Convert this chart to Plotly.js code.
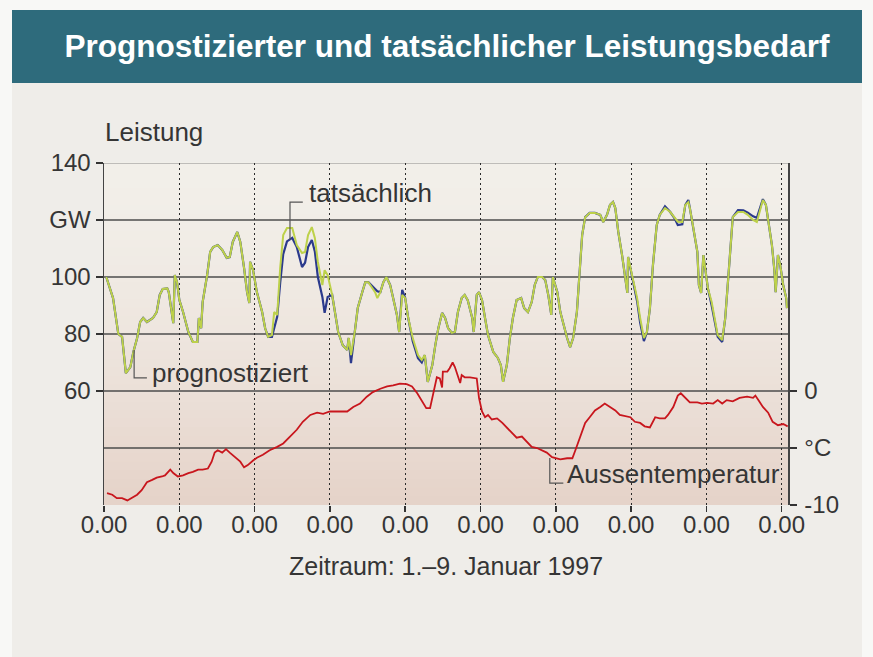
<!DOCTYPE html>
<html><head><meta charset="utf-8">
<script src="https://cdn.plot.ly/plotly-3.0.1.min.js"></script>
<style>html,body{margin:0;padding:0;background:#f8f8f6}#chart{width:873px;height:657px}</style>
</head><body><div id="chart"></div>
<script>
// ---- Data ----
const tage = [0.03,0.08,0.12,0.19,0.24,0.29,0.35,0.39,0.44,0.48,
0.52,0.57,0.61,0.65,0.70,0.74,0.78,0.84,0.86,0.90,
0.92,0.94,0.97,1.00,1.05,1.12,1.18,1.24,1.26,1.29,
1.31,1.37,1.41,1.45,1.51,1.57,1.63,1.67,1.71,1.77,
1.81,1.86,1.90,1.93,1.94,1.98,2.03,2.10,2.14,2.18,
2.23,2.26,2.30,2.34,2.38,2.43,2.50,2.56,2.63,2.67,
2.71,2.76,2.80,2.84,2.90,2.93,2.97,3.03,3.07,3.11,
3.17,3.23,3.25,3.28,3.33,3.37,3.43,3.47,3.51,3.56,
3.60,3.63,3.67,3.71,3.75,3.80,3.84,3.89,3.92,3.96,
4.00,4.04,4.10,4.17,4.22,4.26,4.30,4.36,4.40,4.44,
4.49,4.53,4.57,4.62,4.66,4.70,4.75,4.79,4.83,4.89,
4.91,4.95,4.98,5.02,5.06,5.10,5.17,5.23,5.27,5.30,
5.35,5.39,5.43,5.48,5.54,5.58,5.63,5.68,5.72,5.76,
5.82,5.86,5.90,5.94,5.96,6.02,6.06,6.10,6.15,6.19,
6.23,6.28,6.31,6.35,6.39,6.45,6.52,6.59,6.63,6.68,
6.72,6.76,6.79,6.83,6.88,6.92,6.95,6.96,6.99,7.03,
7.08,7.12,7.17,7.21,7.25,7.29,7.34,7.38,7.45,7.52,
7.58,7.62,7.68,7.72,7.76,7.78,7.82,7.88,7.90,7.93,
7.96,7.98,8.02,8.07,8.11,8.15,8.21,8.25,8.29,8.33,
8.35,8.42,8.49,8.55,8.62,8.67,8.73,8.75,8.79,8.83,
8.87,8.90,8.92,8.95,8.98,9.02,9.06,9.07];

const prognostiziert = [100,96,92.6,80,79,66.3,68.4,73.7,78.6,84.2,
85.6,84.2,85,85.6,87.7,93.7,95.8,96,94.7,87.7,
83.8,100.7,98.2,92,87.7,80.7,77.2,77.2,85.6,82,
91.2,100.7,108.8,110.5,111.2,109.5,106.7,107,112.3,115.8,
112.3,103.2,94.7,90.9,105.3,102.4,94.7,87.7,82,79,
79.6,87.7,86.7,103.2,114.7,117.2,117.2,111.2,108.4,108.8,
114.7,117.5,113.7,105.3,97.2,102.4,100.7,93.7,87.7,80.7,
76.1,74.4,78.6,72.6,80.7,89.1,94.7,98.2,98.2,96,
94.7,92.6,94.7,98.2,100,97.2,92.6,86.7,80.7,93.7,
92.6,85.6,78.6,72.6,70.9,72.6,63.2,69.1,76.1,82,
87.4,85.6,82,80.4,80.7,87.7,92.6,93.7,91.9,85.6,
80.7,93.7,94.7,91.9,85.6,79.6,73.7,71.6,69.1,63.2,
69.1,78.6,85.6,91.9,92.6,89.1,87.7,91.2,97.2,100,
100,98.9,93.7,86.7,100,94.7,87.7,83.2,78.6,75.4,
78.6,87.7,99.6,114.7,121,122.5,122.5,121.8,119.3,121.8,
125.3,126.3,124.2,115.8,107.7,99.6,94.4,107,103.2,98.2,
92.6,85.6,78.6,80.7,89.1,104.2,118.2,121.8,124.2,122.8,
120.7,119.4,119.3,125.3,126.3,124.2,118.2,108.8,97.2,94.4,
107.7,103.2,96,91.2,85.6,79.6,77.9,85.6,99.6,114.7,
121,122.8,122.8,121.8,120,119.3,125.3,127,125.3,118.2,
111.2,103.2,94.7,107.7,104.2,97.2,92.6,89.1];

const tatsaechlich = [100,96,92.6,80,79,66.3,68.4,73.7,78.6,84.2,
85.6,84.2,85,85.6,87.7,93.7,95.8,96,94.7,87.7,
83.8,100.7,98.2,92,87.7,80.7,77.2,77.2,85.6,82,
91.2,100.7,108.8,110.5,111.2,109.5,106.7,107,112.3,115.8,
112.3,103.2,94.7,90.9,105.3,102.4,94.7,87.7,82,79,
79,82,86,98,108,112.5,113.7,110.5,103.5,105,
110.5,113,109,100,93,87.4,93,93.7,87.7,80.7,
76.1,74.4,78.6,69.8,80.7,89.1,94.7,98.2,98.2,97,
96,95,94.7,98.2,100,97.2,92.6,86.7,80.7,95.5,
92.6,85.6,77.5,71.5,70,72.6,63.2,69.1,76.1,82,
87.4,85.6,82,80.4,80.7,87.7,92.6,93.7,91.9,85.6,
80.7,93.7,94.7,91.9,85.6,79.6,73.7,71.6,69.1,63.2,
69.1,78.6,85.6,91.9,92.6,89.1,87.7,91.2,97.2,100,
100,98.9,93.7,86.7,100,94.7,87.7,83.2,78.6,75.4,
78.6,87.7,99.6,114.7,121,122.5,122.5,121.8,119.3,121.8,
125.3,126.3,124.2,115.8,107.7,99.6,94.4,107,103.2,98.2,
91.5,84,77.5,80.7,89.1,104.2,118.2,121.8,124.8,122.8,
120.5,118.2,118.5,125.3,127,124.2,118.2,108.8,97.2,94.4,
107.7,103.2,96,90,84.5,79,77.2,85.6,99.6,114.7,
121,123.5,123.4,122.6,121.3,120.8,125.3,127.3,125.3,118.2,
111.2,103.2,94.7,107.7,104.2,97.2,92.6,89.1];

const tempTage = [0.04,0.11,0.17,0.24,0.31,0.37,0.44,0.50,0.57,0.64,
0.70,0.77,0.81,0.88,0.92,0.98,1.05,1.12,1.18,1.25,
1.31,1.38,1.43,1.47,1.51,1.57,1.62,1.67,1.74,1.81,
1.86,1.91,1.98,2.03,2.11,2.20,2.30,2.38,2.47,2.56,
2.64,2.74,2.83,2.91,3.00,3.09,3.23,3.31,3.40,3.49,
3.57,3.67,3.76,3.84,3.93,4.02,4.09,4.16,4.22,4.28,
4.33,4.37,4.42,4.46,4.49,4.50,4.56,4.59,4.63,4.66,
4.70,4.73,4.75,4.79,4.86,4.93,4.95,4.98,5.02,5.06,
5.10,5.15,5.22,5.29,5.35,5.42,5.48,5.55,5.62,5.68,
5.75,5.82,5.88,5.95,6.02,6.06,6.15,6.22,6.26,6.32,
6.39,6.45,6.52,6.59,6.65,6.72,6.79,6.85,6.92,6.99,
7.05,7.12,7.18,7.25,7.32,7.38,7.45,7.49,7.56,7.62,
7.66,7.72,7.78,7.88,7.94,8.01,8.09,8.15,8.21,8.27,
8.35,8.44,8.54,8.62,8.65,8.69,8.75,8.82,8.88,8.95,
9.02,9.08];

const temperatur = [-8.95,-9.1,-9.4,-9.4,-9.6,-9.4,-9.1,-8.7,-8.0,-7.8,
-7.6,-7.5,-7.4,-6.9,-7.2,-7.5,-7.4,-7.2,-7.1,-6.9,
-6.9,-6.8,-6.2,-5.4,-5.2,-5.4,-5.1,-5.4,-5.8,-6.2,
-6.7,-6.5,-6.1,-5.85,-5.6,-5.2,-4.9,-4.6,-4.0,-3.4,
-2.7,-2.1,-1.9,-2.0,-1.8,-1.8,-1.8,-1.4,-1.1,-0.5,
-0.1,0.2,0.4,0.5,0.65,0.6,0.4,-0.2,-0.8,-1.5,
-1.5,-0.4,1.2,1.1,0.3,1.7,1.7,2.0,2.5,2.1,
1.4,0.7,1.4,1.2,1.2,1.1,1.1,-0.6,-1.8,-2.3,
-2.1,-2.5,-2.4,-2.8,-3.2,-3.7,-4.1,-4.0,-4.5,-4.9,
-5.0,-5.2,-5.4,-5.8,-5.9,-6.0,-5.9,-5.9,-5.2,-4.0,
-2.8,-2.3,-1.7,-1.4,-1.1,-1.4,-1.7,-2.1,-2.2,-2.3,
-2.7,-2.8,-3.1,-3.2,-2.3,-2.4,-2.4,-2.1,-1.4,-0.4,
-0.2,-0.6,-1.0,-1.0,-1.1,-1.05,-1.1,-0.8,-1.1,-0.8,
-0.9,-0.6,-0.5,-0.6,-0.4,-0.8,-1.4,-1.9,-2.7,-3.0,
-2.9,-3.1];

const xTicks = [0,1,2,3,4,5,6,7,8,9];
const xTickLabels = ['0.00','0.00','0.00','0.00','0.00','0.00','0.00','0.00','0.00','0.00'];
const yTicks = [60,80,100,120,140];
const yTickLabels = ['60','80','100','GW','140'];
const y2Ticks = [0,-5,-10];
const y2TickLabels = ['0','°C','-10'];
const hLines = [40,60,80,100,120];

// ---- Layout geometry (pixels) ----
const L = 104, R = 788, T = 163, B = 505;
const px = x => (x - L) / (R - L);
const py = y => (B - y) / (B - T);
const FONT = 'Liberation Sans, Arial, sans-serif';
const TXT = '#353535';

const shapes = [];
// panel background and title bar
shapes.push({type:'rect', xref:'paper', yref:'paper', x0:px(12), x1:px(862), y0:py(657), y1:py(83),
  fillcolor:'#efede9', line:{width:0}, layer:'below'});
shapes.push({type:'rect', xref:'paper', yref:'paper', x0:px(12), x1:px(862), y0:py(83), y1:py(10),
  fillcolor:'#2e6b7c', line:{width:0}, layer:'below'});
// plot-area gradient (light cream at top to pinkish at bottom)
const N = 40, c0 = [242,239,233], c1 = [229,210,200];
for (let i = 0; i < N; i++) {
  const t = Math.pow((i + 0.5) / N, 1.6);
  const c = c0.map((v, k) => Math.round(v + (c1[k] - v) * t));
  shapes.push({type:'rect', xref:'paper', yref:'paper', x0:0, x1:1,
    y0:1 - (i + 1) / N, y1:1 - i / N + 0.002,
    fillcolor:`rgb(${c[0]},${c[1]},${c[2]})`, line:{width:0}, layer:'below'});
}
// horizontal rules
hLines.forEach(v => shapes.push({type:'line', xref:'paper', yref:'y', x0:0, x1:1, y0:v, y1:v,
  line:{color:'#4d4d4d', width:1.5}, layer:'below'}));
shapes.push({type:'line', xref:'paper', yref:'y', x0:0, x1:1, y0:140, y1:140,
  line:{color:'#8a8a8a', width:1}, layer:'below'});
// label brackets
const brk = '#555';
shapes.push({type:'path', xref:'x', yref:'y', path:'M2.47,113 L2.47,126.3 L2.64,126.3', line:{color:brk, width:1.2}});
shapes.push({type:'path', xref:'x', yref:'y', path:'M0.40,74.4 L0.40,64.6 L0.57,64.6', line:{color:brk, width:1.2}});
shapes.push({type:'path', xref:'x', yref:'y', path:'M5.92,36.5 L5.92,27.7 L6.10,27.7', line:{color:brk, width:1.2}});

const annotations = [
  {text:'Leistung', x:px(103), y:py(132), xanchor:'left'},
  {text:'tatsächlich', x:px(307), y:py(193), xanchor:'left'},
  {text:'prognostiziert', x:px(150), y:py(373), xanchor:'left'},
  {text:'Aussentemperatur', x:px(565), y:py(474), xanchor:'left'},
  {text:'Zeitraum: 1.–9. Januar 1997', x:px(446), y:py(566), xanchor:'center', size:25}
].map(a => Object.assign({xref:'paper', yref:'paper', yanchor:'middle', showarrow:false,
  font:{family:FONT, size:a.size || 26, color:TXT}}, a));
annotations.forEach(a => delete a.size);

const traces = [
  {x:tempTage, y:temperatur, yaxis:'y2', type:'scatter', mode:'lines', name:'Aussentemperatur',
   line:{color:'#c8161d', width:1.8}},
  {x:tage, y:tatsaechlich, type:'scatter', mode:'lines', name:'tatsächlich',
   line:{color:'#2b3a8c', width:2.2}},
  {x:tage, y:prognostiziert, type:'scatter', mode:'lines', name:'prognostiziert',
   line:{color:'#bdd14a', width:2}}
];

const layout = {
  width:873, height:657,
  margin:{l:L, r:873 - R, t:T, b:657 - B, pad:0},
  paper_bgcolor:'#f8f8f6', plot_bgcolor:'rgba(0,0,0,0)',
  showlegend:false,
  title:{text:'Prognostizierter und tatsächlicher Leistungsbedarf',
    font:{family:'Liberation Sans, Arial, sans-serif', size:31.5, color:'#ffffff', weight:'bold'},
    xref:'container', yref:'container', x:447/873, xanchor:'center', y:1 - 46/657, yanchor:'middle'},
  xaxis:{range:[0, (R - L) / 75.3], tickvals:xTicks, ticktext:xTickLabels, ticks:'outside', ticklen:6,
    tickcolor:'#333', tickwidth:1.5, showline:false, zeroline:false,
    showgrid:true, gridcolor:'#2a2a2a', gridwidth:1, griddash:'2px,3px', ticklabelstandoff:-8,
    tickfont:{family:FONT, size:24, color:TXT}, fixedrange:true},
  yaxis:{range:[20, 140], tickvals:yTicks, ticktext:yTickLabels, ticks:'outside', ticklen:7,
    tickcolor:'#333', tickwidth:1.5, showline:true, linecolor:'#444', linewidth:1.5,
    showgrid:false, zeroline:false, ticklabelstandoff:0,
    tickfont:{family:FONT, size:24, color:TXT}, fixedrange:true},
  yaxis2:{range:[-10, 20], overlaying:'y', side:'right', tickvals:y2Ticks, ticktext:y2TickLabels,
    ticks:'outside', ticklen:7, tickcolor:'#333', tickwidth:1.5, showline:true, linecolor:'#444', linewidth:1.5,
    showgrid:false, zeroline:false, ticklabelstandoff:3,
    tickfont:{family:FONT, size:24, color:TXT}, fixedrange:true},
  shapes:shapes, annotations:annotations
};

Plotly.newPlot('chart', traces, layout, {staticPlot:true, displayModeBar:false});
</script>
</body></html>
